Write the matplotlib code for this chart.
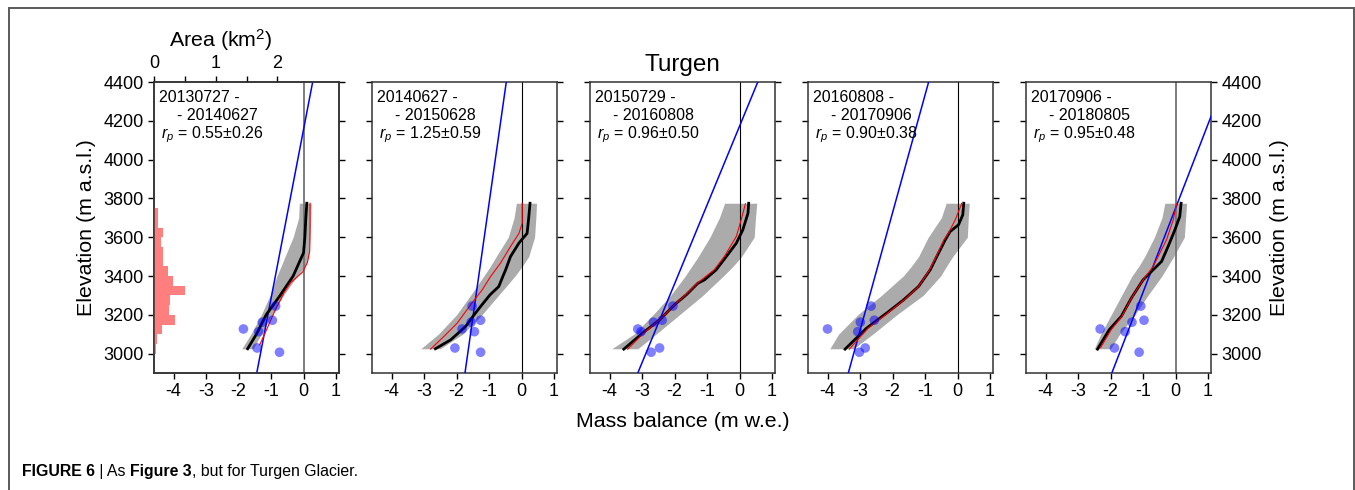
import matplotlib
matplotlib.use('Agg')
import matplotlib.pyplot as plt
import numpy as np
from matplotlib.patches import Rectangle

plt.rcParams['font.family'] = ['Liberation Sans', 'DejaVu Sans']
plt.rcParams['axes.unicode_minus'] = False
plt.rcParams['mathtext.fontset'] = 'custom'
plt.rcParams['mathtext.rm'] = 'Liberation Sans'
plt.rcParams['mathtext.it'] = 'Liberation Sans:italic'

# --- data ---
date_start = ['20130727', '20140627', '20150729', '20160808', '20170906']
date_end = ['20140627', '20150628', '20160808', '20170906', '20180805']
rp_val = ['0.55', '1.25', '0.96', '0.90', '0.95']
rp_err = ['0.26', '0.59', '0.50', '0.38', '0.48']

# area histogram (km2), 50 m bins starting at 3000 m
hist_bottom = [3000, 3050, 3100, 3150, 3200, 3250, 3300, 3350,
               3400, 3450, 3500, 3550, 3600, 3650, 3700]
hist_area = [0.03, 0.054, 0.135, 0.34, 0.24, 0.26, 0.50, 0.30,
             0.22, 0.14, 0.14, 0.11, 0.15, 0.07, 0.07]

# stake measurements
stake_elev = [3007, 3029, 3113, 3127, 3162, 3172, 3245]
stake_mb = [
    [-0.74, -1.43, -1.38, -1.85, -1.27, -0.96, -0.86],
    [-1.26, -2.05, -1.45, -1.83, -1.55, -1.26, -1.52],
    [-2.72, -2.46, -3.03, -3.13, -2.65, -2.38, -2.05],
    [-3.02, -2.84, -3.07, -4.00, -2.99, -2.56, -2.66],
    [-1.12, -1.88, -1.55, -2.32, -1.34, -0.97, -1.07],
]

# linear fit to stakes (blue line), mass balance at 2900 m and 4400 m
fit_elev = [2900, 4400]
fit_mb = [[-1.44, 0.28], [-1.74, -0.47], [-3.13, 0.56], [-3.36, -0.89], [-1.96, 1.50]]

# model profile (black)
model_elev = [
    [3025, 3100, 3200, 3300, 3400, 3520, 3600, 3700, 3775],
    [3025, 3071, 3140, 3200, 3243, 3303, 3346, 3400, 3432, 3500, 3570, 3620, 3700, 3775],
    [3023, 3106, 3174, 3252, 3303, 3363, 3380, 3432, 3500, 3569, 3638, 3724, 3775],
    [3023, 3131, 3209, 3277, 3346, 3432, 3500, 3586, 3629, 3664, 3715, 3775],
    [3023, 3123, 3192, 3286, 3380, 3432, 3475, 3552, 3638, 3707, 3775],
]
model_mb = [
    [-1.72, -1.45, -1.15, -0.72, -0.32, 0.0, 0.04, 0.07, 0.10],
    [-2.65, -2.18, -1.72, -1.46, -1.26, -0.97, -0.70, -0.57, -0.49, -0.34, -0.08, 0.17, 0.22, 0.26],
    [-3.56, -2.98, -2.46, -2.0, -1.64, -1.28, -1.08, -0.72, -0.41, -0.10, 0.10, 0.26, 0.28],
    [-3.46, -2.80, -2.18, -1.66, -1.2, -0.84, -0.64, -0.38, -0.23, 0.03, 0.16, 0.19],
    [-2.40, -2.04, -1.67, -1.36, -1.0, -0.69, -0.43, -0.23, -0.02, 0.13, 0.17],
]

# reference profile (red)
ref_elev = [
    [3045, 3100, 3210, 3315, 3365, 3420, 3470, 3530, 3650, 3775],
    [3023, 3088, 3157, 3251, 3329, 3398, 3466, 3552, 3620, 3672, 3775],
    [3023, 3106, 3174, 3252, 3303, 3363, 3432, 3500, 3604, 3690, 3772],
    [3023, 3131, 3209, 3277, 3346, 3432, 3500, 3586, 3621, 3690, 3775],
    [3030, 3123, 3192, 3286, 3380, 3449, 3586, 3690, 3772],
]
ref_mb = [
    [-1.35, -1.2, -0.91, -0.6, -0.4, -0.03, 0.12, 0.19, 0.2, 0.2],
    [-2.8, -2.39, -1.98, -1.57, -1.21, -0.95, -0.65, -0.34, -0.08, 0.02, 0.02],
    [-3.44, -2.95, -2.46, -2.0, -1.66, -1.3, -0.78, -0.47, -0.10, 0.05, 0.18],
    [-3.33, -2.75, -2.15, -1.64, -1.2, -0.86, -0.66, -0.42, -0.28, -0.07, 0.13],
    [-2.31, -1.98, -1.65, -1.36, -1.0, -0.69, -0.28, -0.07, 0.03],
]

# uncertainty band (grey)
band_elev = [3025, 3100, 3200, 3300, 3400, 3450, 3500, 3600, 3700, 3775]
band_lo = [
    [-1.9, -1.62, -1.3, -1.03, -0.82, -0.69, -0.57, -0.32, -0.15, -0.13],
    [-3.1, -2.56, -2.0, -1.57, -1.16, -0.96, -0.78, -0.41, -0.23, -0.16],
    [-3.93, -3.25, -2.66, -2.12, -1.67, -1.47, -1.27, -0.91, -0.62, -0.46],
    [-3.93, -3.66, -3.07, -2.34, -1.67, -1.42, -1.2, -0.90, -0.5, -0.35],
    [-2.5, -2.3, -1.98, -1.66, -1.34, -1.13, -0.95, -0.65, -0.42, -0.33],
]
band_hi = [
    [-1.55, -1.3, -0.97, -0.62, -0.2, 0.05, 0.15, 0.2, 0.22, 0.23],
    [-2.5, -1.81, -1.22, -0.71, -0.2, 0.02, 0.22, 0.40, 0.44, 0.46],
    [-3.13, -2.57, -1.85, -1.13, -0.5, -0.20, 0.06, 0.45, 0.49, 0.53],
    [-3.2, -2.61, -1.87, -1.06, -0.52, -0.34, -0.15, 0.30, 0.33, 0.36],
    [-2.0, -1.72, -1.25, -0.85, -0.42, -0.24, -0.06, 0.27, 0.31, 0.34],
]

xticks = [-4, -3, -2, -1, 0, 1]
yticks = [3000, 3200, 3400, 3600, 3800, 4000, 4200, 4400]

W, H = 1355, 490
fig = plt.figure(figsize=(W / 100, H / 100), dpi=100)

# frame around the figure
fig.patches.append(Rectangle((9 / W, -0.05), (1354 - 9) / W, 1.05 - 8 / H,
                             transform=fig.transFigure, fill=False,
                             edgecolor='#5a5a5a', linewidth=1.4))

ax_w, ax_h = 185 / W, 291 / H
ax_b = 1 - 373 / H
lefts = [154, 372, 590, 808, 1026]
axes = []
for i in range(5):
    ax = fig.add_axes([lefts[i] / W, ax_b, ax_w, ax_h])
    axes.append(ax)

    ax.fill_betweenx(band_elev, band_lo[i], band_hi[i], color='#ababab', lw=0, zorder=1)
    zcol, zlw = ('0.45', 1.3) if i in (0, 4) else ('k', 0.8)
    ax.axvline(0, color=zcol, lw=zlw, zorder=2)
    ax.plot(fit_mb[i], fit_elev, color='blue', lw=1.1, zorder=3)
    ax.plot(model_mb[i], model_elev[i], color='black', lw=2.0, zorder=4)
    ax.plot(ref_mb[i], ref_elev[i], color='red', lw=0.8, zorder=5)
    ax.scatter(stake_mb[i], stake_elev, s=48, color='blue', alpha=0.5,
               edgecolors='none', zorder=6)

    ax.set_xlim(-4.6, 1.09)
    ax.set_ylim(2900, 4400)
    ax.set_xticks(xticks)
    ax.set_yticks(yticks)
    ax.tick_params(direction='out', length=4, width=1, labelsize=13,
                   left=True, right=True, labelleft=(i == 0), labelright=(i == 4))
    for sp in ax.spines.values():
        sp.set_linewidth(1.1)
        sp.set_color('0.2')

    ax.text(0.027, 0.932, date_start[i] + ' -', transform=ax.transAxes,
            fontsize=11.5, va='baseline')
    ax.text(0.125, 0.869, '- ' + date_end[i], transform=ax.transAxes,
            fontsize=11.5, va='baseline')
    ax.text(0.04, 0.806, r'$r_p$ = ' + rp_val[i] + r'$\pm$' + rp_err[i],
            transform=ax.transAxes, fontsize=11.5, va='baseline')

axes[0].set_ylabel('Elevation (m a.s.l.)', fontsize=15.4, labelpad=5)
axes[4].yaxis.set_label_position('right')
axes[4].set_ylabel('Elevation (m a.s.l.)', fontsize=15.4, labelpad=6)
axes[2].set_xlabel('Mass balance (m w.e.)', fontsize=15.4, labelpad=8)
axes[2].set_title('Turgen', fontsize=17.5, pad=8)

# area histogram on the first panel
ax_area = axes[0].twiny()
ax_area.barh(hist_bottom, hist_area, height=50, align='edge', color='#ff7f7f',
             lw=0, zorder=1)
ax_area.set_xlim(0, 3)
ax_area.set_xticks([0, 0.5, 1, 1.5, 2])
ax_area.set_xticklabels(['0', '', '1', '', '2'])
ax_area.tick_params(direction='out', length=4, width=1, labelsize=13)
ax_area.set_xlabel('Area (km$^2$)', fontsize=15.4)
ax_area.xaxis.set_label_coords(0.36, 1.10)
ax_area.xaxis.label.set_va('bottom')
for sp in ax_area.spines.values():
    sp.set_linewidth(1.1)
    sp.set_color('0.2')

# caption with mixed weights
fig.canvas.draw()
renderer = fig.canvas.get_renderer()
cap_parts = [('FIGURE 6', 'bold'), (' | As ', 'normal'), ('Figure 3', 'bold'),
             (', but for Turgen Glacier.', 'normal')]
cx = 22 / W
for s, w in cap_parts:
    t = fig.text(cx, 1 - 476 / H, s, fontsize=11.4, fontweight=w, va='baseline')
    bb = t.get_window_extent(renderer)
    cx += bb.width / W

fig.savefig('out.png', dpi=100)
